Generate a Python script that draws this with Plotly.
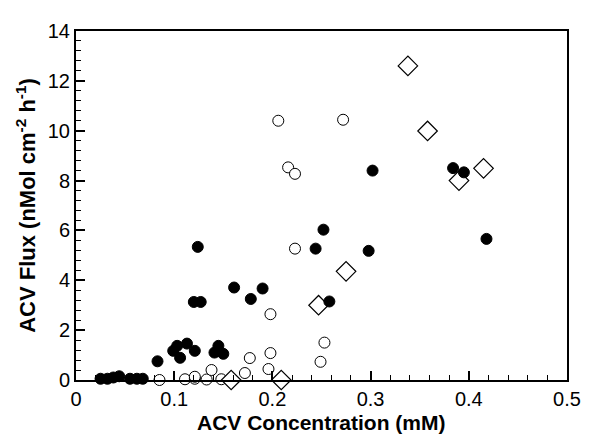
import plotly.graph_objects as go

# Filled circles
filled_x = [0.025, 0.032, 0.038, 0.044, 0.055, 0.062, 0.068, 0.083,
            0.099, 0.103, 0.106, 0.113, 0.121, 0.120, 0.127, 0.124,
            0.141, 0.145, 0.150, 0.161, 0.178, 0.190, 0.244, 0.252,
            0.258, 0.298, 0.302, 0.384, 0.395, 0.418]
filled_y = [0.05, 0.05, 0.10, 0.15, 0.05, 0.05, 0.05, 0.75,
            1.17, 1.37, 0.89, 1.46, 1.17, 3.13, 3.13, 5.34,
            1.10, 1.37, 1.05, 3.71, 3.25, 3.67, 5.27, 6.03,
            3.15, 5.18, 8.40, 8.50, 8.33, 5.66]

# Open circles
open_x = [0.085, 0.111, 0.121, 0.121, 0.133, 0.138, 0.148, 0.172, 0.177,
          0.196, 0.198, 0.198, 0.206, 0.216, 0.223, 0.223, 0.249, 0.253, 0.272]
open_y = [0.00, 0.03, 0.05, 0.13, 0.02, 0.40, 0.03, 0.28, 0.88,
          0.44, 1.08, 2.64, 10.40, 8.53, 8.27, 5.27, 0.73, 1.50, 10.44]

# Open diamonds
diam_x = [0.158, 0.209, 0.247, 0.275, 0.338, 0.358, 0.390, 0.415]
diam_y = [0.00, 0.00, 3.00, 4.36, 12.60, 9.99, 8.00, 8.49]

x_title = "<b>ACV Concentration (mM)</b>"
y_title = "<b>ACV Flux (nMol cm<sup>-2</sup> h<sup>-1</sup>)</b>"

fig = go.Figure()
fig.add_trace(go.Scatter(x=open_x, y=open_y, mode="markers",
                         marker=dict(symbol="circle", size=11, color="white",
                                     line=dict(color="black", width=1)),
                         cliponaxis=False))
fig.add_trace(go.Scatter(x=diam_x, y=diam_y, mode="markers",
                         marker=dict(symbol="diamond", size=15, color="white",
                                     line=dict(color="black", width=1.2)),
                         cliponaxis=False))
fig.add_trace(go.Scatter(x=filled_x, y=filled_y, mode="markers",
                         marker=dict(symbol="circle", size=11, color="black",
                                     line=dict(color="black", width=1)),
                         cliponaxis=False))

font_family = "Liberation Sans, Arial, sans-serif"
fig.update_layout(
    width=588, height=429,
    margin=dict(l=68, r=29, t=14, b=57),
    paper_bgcolor="white", plot_bgcolor="white",
    showlegend=False,
    font=dict(family=font_family, color="black", size=20),
    xaxis=dict(
        range=[0, 0.5], tickvals=[0, 0.1, 0.2, 0.3, 0.4, 0.5],
        ticktext=["0", "0.1", "0.2", "0.3", "0.4", "0.5"],
        ticks="inside", ticklen=9, tickwidth=1.5, tickcolor="black",
        minor=dict(dtick=0.02, ticks="inside", ticklen=5, tickwidth=1.2, tickcolor="black"),
        showline=True, linecolor="black", linewidth=2, mirror=True,
        showgrid=False, zeroline=False,
        tickfont=dict(size=20),
    ),
    yaxis=dict(
        range=[0, 14], tickvals=[0, 2, 4, 6, 8, 10, 12, 14],
        ticks="inside", ticklen=9, tickwidth=1.5, tickcolor="black",
        minor=dict(dtick=0.4, ticks="inside", ticklen=5, tickwidth=1.2, tickcolor="black"),
        showline=True, linecolor="black", linewidth=2, mirror=True,
        showgrid=False, zeroline=False,
        tickfont=dict(size=20),
        title=dict(text=y_title, font=dict(size=22), standoff=6),
    ),
    annotations=[dict(text=x_title, xref="paper", yref="paper", x=0.5, y=-0.122,
                      xanchor="center", yanchor="middle", showarrow=False,
                      font=dict(size=21))],
)

fig.write_html("out.html")
